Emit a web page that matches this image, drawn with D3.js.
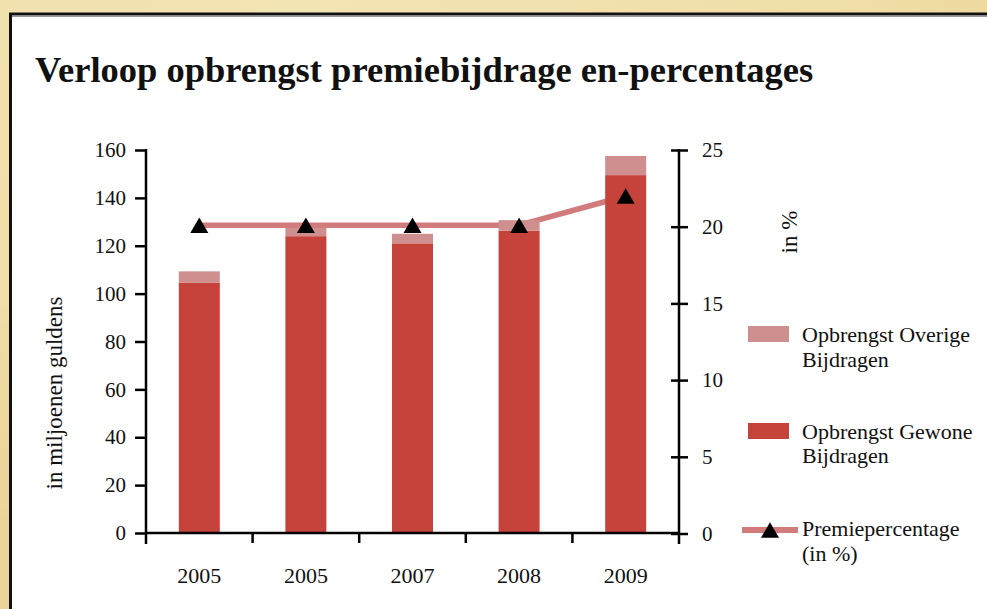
<!DOCTYPE html>
<html>
<head>
<meta charset="utf-8">
<script src="https://cdn.jsdelivr.net/npm/d3@7"></script>
<style>
  html, body { margin: 0; padding: 0; background: #f1e2ad; }
  svg { display: block; }
  text { font-family: "Liberation Serif", "DejaVu Serif", serif; fill: #111; }
</style>
</head>
<body>
<div id="chart"></div>
<script>
// data
const years = ["2005", "2005", "2007", "2008", "2009"];
const gewone = [104.5, 124, 121, 126.3, 149.5];   // Opbrengst Gewone Bijdragen
const overige = [4.8, 3.5, 4, 4.4, 8];            // Opbrengst Overige Bijdragen
const premie = [20.1, 20.1, 20.1, 20.1, 22];      // Premiepercentage (in %)
const leftTicks = [0, 20, 40, 60, 80, 100, 120, 140, 160];
const rightTicks = [0, 5, 10, 15, 20, 25];

const W = 987, H = 609;
const colGewone = "#c5433a", colOverige = "#ce8f8e", colLine = "#d17b7d";

const svg = d3.select("#chart").append("svg")
    .attr("width", W)
    .attr("height", H);

// parchment background
let defs = svg.append("defs");
let grad = defs.append("radialGradient").attr("id", "parch")
    .attr("cx", "30%").attr("cy", "0%").attr("r", "90%");
grad.append("stop").attr("offset", "0%").attr("stop-color", "#f3e4b3");
grad.append("stop").attr("offset", "60%").attr("stop-color", "#f0dea8");
grad.append("stop").attr("offset", "100%").attr("stop-color", "#ecd39a");
svg.append("rect").attr("width", W).attr("height", H).attr("fill", "url(#parch)");

// white panel, runs off the right and bottom
svg.append("rect")
    .attr("x", 10.5).attr("y", 14)
    .attr("width", W + 20).attr("height", H + 20)
    .attr("fill", "#fff")
    .attr("stroke", "#111")
    .attr("stroke-width", 3);
svg.append("line")
    .attr("x1", 12).attr("x2", W).attr("y1", 16.5).attr("y2", 16.5)
    .attr("stroke", "#999").attr("stroke-width", 1);

svg.append("text")
    .attr("x", 35).attr("y", 82)
    .attr("font-size", 36.5)
    .attr("font-weight", "bold")
    .text("Verloop opbrengst premiebijdrage en-percentages");

const x = d3.scaleBand()
    .domain(d3.range(years.length))
    .range([146, 679])
    .padding(0);
const barW = 41;
const yL = d3.scaleLinear().domain([0, 160]).range([533, 150]);
const yR = d3.scaleLinear().domain([0, 25]).range([533.5, 150]);

const plot = svg.append("g");

// premie line is drawn under the bars
let lineGen = d3.line()
    .x((d, i) => x(i) + x.bandwidth() / 2)
    .y(d => yR(d));
plot.append("path")
    .datum(premie)
    .attr("d", lineGen)
    .attr("fill", "none")
    .attr("stroke", colLine)
    .attr("stroke-width", 5.5);

let bars = plot.selectAll("g.bar")
    .data(years.map((y, i) => ({i: i, g: gewone[i], o: overige[i]})))
    .enter()
    .append("g")
    .classed("bar", true);
bars.append("rect")
    .attr("x", d => x(d.i) + x.bandwidth() / 2 - barW / 2)
    .attr("width", barW)
    .attr("y", d => yL(d.g))
    .attr("height", d => yL(0) - yL(d.g))
    .attr("fill", colGewone);
bars.append("rect")
    .attr("x", d => x(d.i) + x.bandwidth() / 2 - barW / 2)
    .attr("width", barW)
    .attr("y", d => yL(d.g + d.o))
    .attr("height", d => yL(d.g) - yL(d.g + d.o))
    .attr("fill", colOverige);

const triSize = 140;
const triShift = Math.sqrt(triSize * 4 / Math.sqrt(3)) * Math.sqrt(3) / 2 / 6;
const tri = d3.symbol().type(d3.symbolTriangle).size(triSize);
plot.selectAll("path.marker")
    .data(premie)
    .enter()
    .append("path")
    .classed("marker", true)
    .attr("d", tri)
    .attr("transform", (d, i) => `translate(${x(i) + x.bandwidth() / 2},${yR(d) + triShift})`)
    .attr("fill", "#000");

// left axis
let axL = svg.append("g")
    .attr("transform", "translate(146,0)")
    .call(d3.axisLeft(yL).tickValues(leftTicks).tickSize(11).tickPadding(9).tickFormat(d3.format("d")));
axL.select(".domain").remove();
axL.selectAll("line").attr("stroke", "#000").attr("stroke-width", 2.5);
axL.selectAll("text").attr("font-size", 21).attr("font-family", "Liberation Serif");
svg.append("line")
    .attr("x1", 146).attr("x2", 146).attr("y1", 149).attr("y2", 544)
    .attr("stroke", "#000").attr("stroke-width", 2.5);

// right axis, ticks cross the line
let axR = svg.append("g")
    .attr("transform", "translate(679,0)")
    .call(d3.axisRight(yR).tickValues(rightTicks).tickSize(9).tickPadding(14));
axR.select(".domain").remove();
axR.selectAll(".tick line").attr("x1", -8).attr("stroke", "#000").attr("stroke-width", 2.5);
axR.selectAll("text").attr("font-size", 21).attr("font-family", "Liberation Serif");
svg.append("line")
    .attr("x1", 679).attr("x2", 679).attr("y1", 149).attr("y2", 544)
    .attr("stroke", "#000").attr("stroke-width", 2.5);

// bottom axis: ticks on band edges, labels at centres
svg.append("line")
    .attr("x1", 146).attr("x2", 679).attr("y1", 533).attr("y2", 533)
    .attr("stroke", "#000").attr("stroke-width", 2.5);
svg.selectAll("line.xtick")
    .data(d3.range(1, years.length))
    .enter()
    .append("line")
    .classed("xtick", true)
    .attr("x1", i => x(i)).attr("x2", i => x(i))
    .attr("y1", 533).attr("y2", 543)
    .attr("stroke", "#000").attr("stroke-width", 2.5);
svg.selectAll("text.xlabel")
    .data(years)
    .enter()
    .append("text")
    .classed("xlabel", true)
    .attr("x", (d, i) => x(i) + x.bandwidth() / 2)
    .attr("y", 583)
    .attr("text-anchor", "middle")
    .attr("font-size", 22)
    .text(d => d);

// axis titles
svg.append("text")
    .attr("transform", "translate(62,393) rotate(-90)")
    .attr("text-anchor", "middle")
    .attr("font-size", 23)
    .text("in miljoenen guldens");
svg.append("text")
    .attr("transform", "translate(797,232) rotate(-90)")
    .attr("text-anchor", "middle")
    .attr("font-size", 23)
    .text("in %");

// legend
const legend = svg.append("g").attr("font-size", 22);
legend.append("rect").attr("x", 748).attr("y", 326).attr("width", 41).attr("height", 16).attr("fill", colOverige);
legend.append("text").attr("x", 802).attr("y", 342).text("Opbrengst Overige");
legend.append("text").attr("x", 802).attr("y", 367).text("Bijdragen");

legend.append("rect").attr("x", 748).attr("y", 423).attr("width", 41).attr("height", 16).attr("fill", colGewone);
legend.append("text").attr("x", 802).attr("y", 439).text("Opbrengst Gewone");
legend.append("text").attr("x", 802).attr("y", 463).text("Bijdragen");

legend.append("line").attr("x1", 742).attr("x2", 798).attr("y1", 530).attr("y2", 530)
    .attr("stroke", colLine).attr("stroke-width", 6);
legend.append("path").attr("d", tri).attr("transform", `translate(770,${530 + triShift})`).attr("fill", "#000");
legend.append("text").attr("x", 802).attr("y", 536).text("Premiepercentage");
legend.append("text").attr("x", 802).attr("y", 561).text("(in %)");
</script>
</body>
</html>
